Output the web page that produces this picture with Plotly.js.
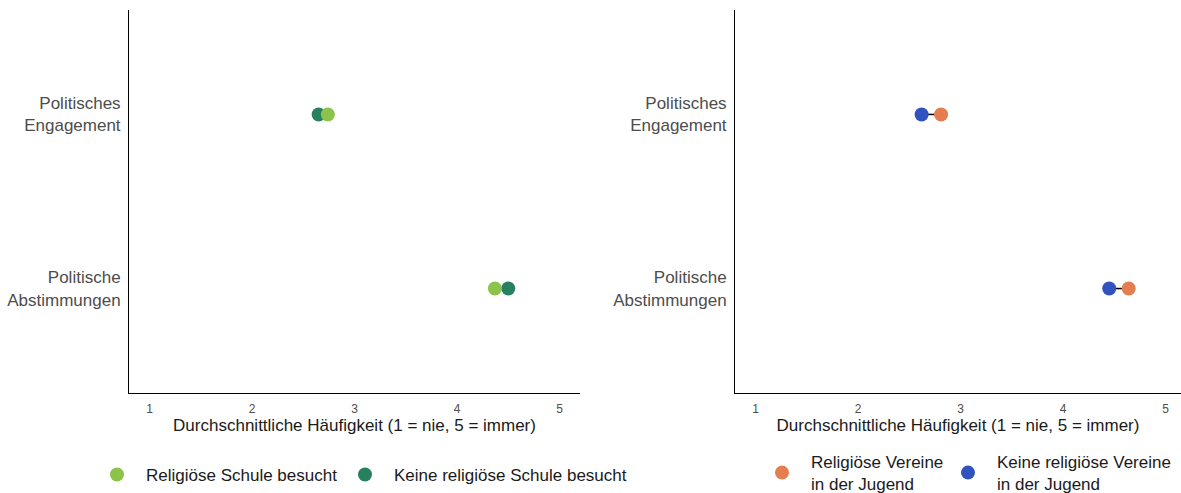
<!DOCTYPE html>
<html><head><meta charset="utf-8">
<script src="https://cdn.plot.ly/plotly-3.0.1.min.js"></script>
<style>html,body{margin:0;padding:0;background:#fff}</style>
</head><body><div id="chart" style="width:1181px;height:493px"></div>
<script>
const categories = ["Politische<br>Abstimmungen", "Politisches<br>Engagement"];
const tickVals = [1, 2, 3, 4, 5];
// Left panel: religious school
const schoolYes = [4.37, 2.74];
const schoolNo = [4.50, 2.65];
// Right panel: religious youth associations
const clubYes = [4.64, 2.81];
const clubNo = [4.45, 2.62];

const nameSchoolYes = "Religiöse Schule besucht";
const nameSchoolNo = "Keine religiöse Schule besucht";
const nameClubYes = "Religiöse Vereine<br>in der Jugend";
const nameClubNo = "Keine religiöse Vereine<br>in der Jugend";

const cLightGreen = "#8cc34b", cDarkGreen = "#27815f", cOrange = "#e47d4f", cBlue = "#3152bf";

function segs(a, b) {
  const x = [], y = [];
  for (let i = 0; i < categories.length; i++) { x.push(a[i], b[i], null); y.push(categories[i], categories[i], null); }
  return {x, y};
}
const s1 = segs(schoolYes, schoolNo), s2 = segs(clubYes, clubNo);
const ms = 14;
const traces = [
  {x: s1.x, y: s1.y, mode: "lines", line: {color: "#000", width: 1.5}, showlegend: false, hoverinfo: "skip", xaxis: "x", yaxis: "y"},
  {x: schoolNo, y: categories, mode: "markers", name: nameSchoolNo, marker: {color: cDarkGreen, size: ms}, xaxis: "x", yaxis: "y", legend: "legend2"},
  {x: schoolYes, y: categories, mode: "markers", name: nameSchoolYes, marker: {color: cLightGreen, size: ms}, xaxis: "x", yaxis: "y", legend: "legend"},
  {x: s2.x, y: s2.y, mode: "lines", line: {color: "#000", width: 1.5}, showlegend: false, hoverinfo: "skip", xaxis: "x2", yaxis: "y2"},
  {x: clubNo, y: categories, mode: "markers", name: nameClubNo, marker: {color: cBlue, size: ms}, xaxis: "x2", yaxis: "y2", legend: "legend4"},
  {x: clubYes, y: categories, mode: "markers", name: nameClubYes, marker: {color: cOrange, size: ms}, xaxis: "x2", yaxis: "y2", legend: "legend3"}
];

const xAxisBase = {
  range: [0.8, 5.2], tickvals: tickVals, showgrid: false, zeroline: false, automargin: false,
  showline: true, linecolor: "#000", linewidth: 1, ticks: "", ticklabelstandoff: 5,
  tickfont: {size: 12, color: "#4d4d4d"},
  title: {text: "Durchschnittliche Häufigkeit (1 = nie, 5 = immer)", font: {size: 17, color: "#1a1a1a"}, standoff: 2}
};
const yAxisBase = {
  type: "category", categoryarray: categories, range: [-0.6, 1.6], showgrid: false, zeroline: false, automargin: false,
  showline: true, linecolor: "#000", linewidth: 1, ticks: "", ticklabelstandoff: 4,
  tickfont: {size: 17, color: "#4d4d4d"}
};
const legendBase = {orientation: "h", font: {size: 17, color: "#1a1a1a"}, bgcolor: "rgba(0,0,0,0)", yanchor: "middle", xanchor: "left", itemwidth: 48};
const lg = (x, y) => Object.assign({}, legendBase, {x: x / 1181, y: 1 - y / 493});

const layout = {
  width: 1181, height: 493, margin: {l: 0, r: 0, t: 0, b: 0, autoexpand: false},
  paper_bgcolor: "#fff", plot_bgcolor: "#fff",
  font: {family: "Liberation Sans, Arial, sans-serif"},
  xaxis: Object.assign({}, xAxisBase, {domain: [129/1181, 580/1181], anchor: "y"}),
  yaxis: Object.assign({}, yAxisBase, {domain: [1 - 393/493, 1 - 10/493], anchor: "x"}),
  xaxis2: Object.assign({}, xAxisBase, {domain: [735/1181, 1], anchor: "y2", range: [0.8, 5.15]}),
  yaxis2: Object.assign({}, yAxisBase, {domain: [1 - 393/493, 1 - 10/493], anchor: "x2"}),
  legend: lg(88, 475),
  legend2: lg(336, 475),
  legend3: lg(753, 473),
  legend4: lg(939, 473),
  showlegend: true
};
Plotly.newPlot("chart", traces, layout, {displayModeBar: false, staticPlot: true});
</script></body></html>
